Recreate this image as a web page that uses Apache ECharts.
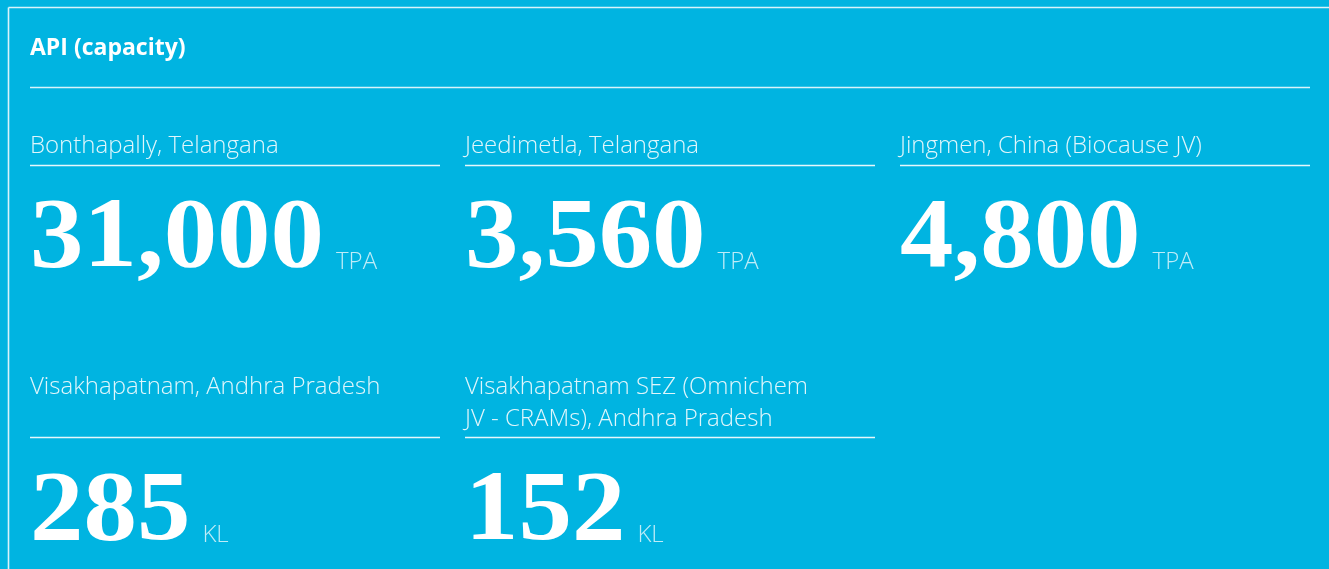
<!DOCTYPE html>
<html>
<head>
<meta charset="utf-8">
<script src="https://cdn.jsdelivr.net/npm/echarts@6/dist/echarts.min.js"></script>
<style>
html,body{margin:0;padding:0;background:#00b4e1;}
#chart{width:1329px;height:569px;}
</style>
</head>
<body>
<div id="chart"></div>
<script>
var title = 'API (capacity)';
var locations = [
  'Bonthapally, Telangana',
  'Jeedimetla, Telangana',
  'Jingmen, China (Biocause JV)',
  'Visakhapatnam, Andhra Pradesh',
  'Visakhapatnam SEZ (Omnichem\nJV - CRAMs), Andhra Pradesh'
];
var capacities = [31000, 3560, 4800, 285, 152];
var units = ['TPA', 'TPA', 'TPA', 'KL', 'KL'];

var BG = '#00b4e1';
var colX = [30, 465, 900];
var colW = 410;
var rows = [
  { label: 146, rule: 165, num: 240, unit: 262 },
  { label: 387, rule: 437, num: 513, unit: 535 }
];
var numFont = 'bold 99px "Liberation Serif", serif';
var numScaleX = 1.08;
var labelFamily = '"Open Sans", Lato, sans-serif';

var measureCtx = document.createElement('canvas').getContext('2d');
function textWidth(t, font) { measureCtx.font = font; return measureCtx.measureText(t).width; }

var chart = echarts.init(document.getElementById('chart'), null, { renderer: 'canvas' });
var elements = [];

// frame
elements.push({ type: 'line', shape: { x1: 8.5, y1: 7.5, x2: 1329, y2: 7.5 }, style: { stroke: '#d8f3fb', lineWidth: 1.6 } });
elements.push({ type: 'line', shape: { x1: 8.5, y1: 7.5, x2: 8.5, y2: 569 }, style: { stroke: '#d8f3fb', lineWidth: 1.6 } });

// title
elements.push({ type: 'text', x: 30, y: 48, style: { text: title, fill: '#ffffff', font: 'bold 23px "Open Sans", Lato, sans-serif', verticalAlign: 'middle', align: 'left' } });
elements.push({ type: 'line', shape: { x1: 30, y1: 87.5, x2: 1310, y2: 87.5 }, style: { stroke: '#d8f3fb', lineWidth: 1.4 } });

locations.forEach(function (loc, i) {
  var r = rows[Math.floor(i / 3)];
  var x = colX[i % 3];
  var lines = loc.split('\n');
  lines.forEach(function (ln, k) {
    elements.push({ type: 'text', x: x, y: r.label + k * 32, style: { text: ln, fill: 'rgba(255,255,255,0.88)', font: '300 24px ' + labelFamily, verticalAlign: 'middle', align: 'left' } });
  });
  elements.push({ type: 'line', shape: { x1: x, y1: r.rule + 0.5, x2: x + colW, y2: r.rule + 0.5 }, style: { stroke: '#e6f7fc', lineWidth: 1.4 } });
  var numText = capacities[i].toLocaleString('en-US');
  elements.push({ type: 'text', x: x, y: r.num, scaleX: numScaleX, style: { text: numText, fill: '#ffffff', font: numFont, verticalAlign: 'middle', align: 'left' } });
  var w = textWidth(numText, numFont) * numScaleX;
  elements.push({ type: 'text', x: x + w + 12, y: r.unit, style: { text: units[i], fill: 'rgba(255,255,255,0.75)', font: '300 24px ' + labelFamily, verticalAlign: 'middle', align: 'left' } });
});

chart.setOption({
  backgroundColor: BG,
  animation: false,
  graphic: { elements: elements }
});
</script>
</body>
</html>
